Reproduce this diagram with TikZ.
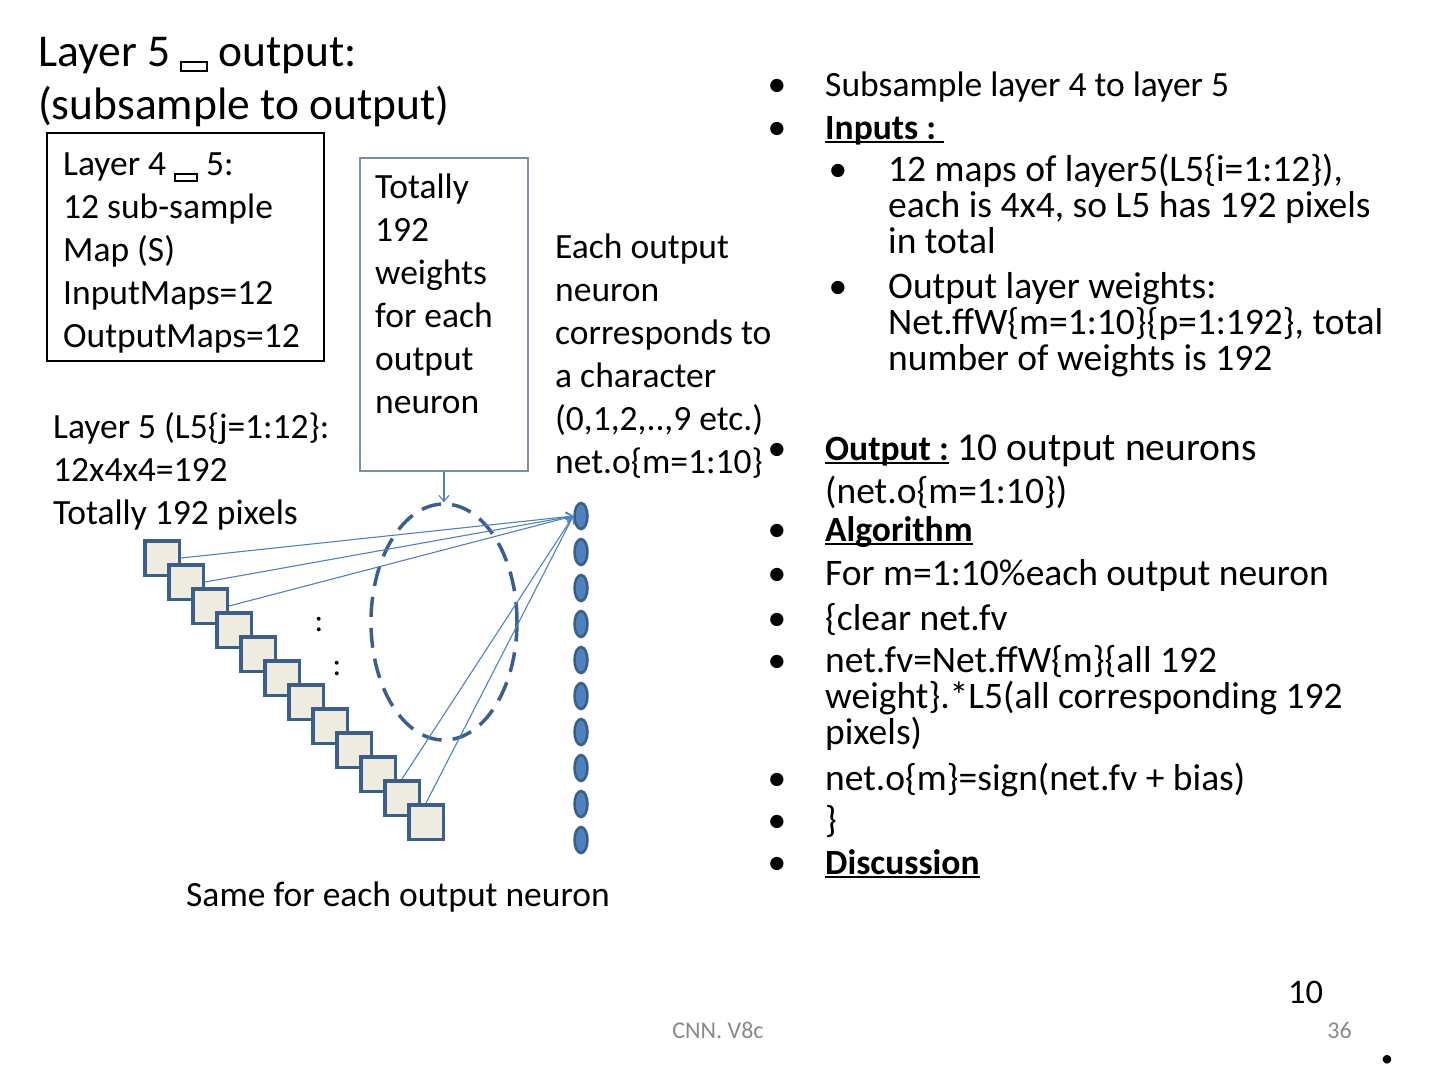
\documentclass[tikz,border=0pt]{standalone}
\usepackage{fontspec}
\setmainfont{Carlito}
\usetikzlibrary{arrows.meta,shapes.geometric}
\definecolor{sqborder}{HTML}{3B5E8C}
\definecolor{sqfill}{HTML}{EEECE1}
\definecolor{accent}{HTML}{4F81BD}
\definecolor{accentdark}{HTML}{385D8A}
\definecolor{boxgray}{HTML}{7D8DA3}
\definecolor{footgray}{HTML}{898989}
\newcommand\tofu[3]{\raisebox{#3}{\setlength\fboxsep{0pt}\setlength\fboxrule{2pt}\fbox{\rule{0pt}{#2}\rule{#1}{0pt}}}}
\newcommand\uln[1]{\setbox0\hbox{#1}\rlap{\rule[-4pt]{\wd0}{2pt}}\box0}
\newcommand\fsz[2]{\fontsize{#1}{#2}\selectfont}
\begin{document}
\begin{tikzpicture}[x=1pt,y=-1pt,
  lbl/.style={inner sep=0pt, anchor=base west, align=left, font=\fsz{35.5}{43}},
  sq/.style={draw=sqborder, fill=sqfill, line width=3.5pt, minimum size=34.5pt, inner sep=0pt},
  neuron/.style={ellipse, draw=accentdark, fill=accent, line width=2.5pt, minimum width=13pt, minimum height=26pt, inner sep=0pt},
  link/.style={draw=accent, line width=1.1pt, -{Straight Barb[length=6pt,width=10pt]}},
  bul/.style={inner sep=0pt, anchor=base, font=\fsz{37.5}{36}},
  item/.style={inner sep=0pt, anchor=base west, align=left, font=\fsz{37.5}{36}},
  bitem/.style={inner sep=0pt, anchor=base west, align=left, font=\bfseries\fsz{35.5}{36}},
]
\useasboundingbox (0,0) rectangle (1440,1080);

% title (multi-line nodes are anchored at the baseline of their last line)
\node[lbl, font=\fsz{45.5}{53}] (title) at (38,119) {Layer 5 \tofu{24pt}{7pt}{-4pt} output:\\(subsample to output)};

% layer 4 box
\node[draw=black, line width=2pt, minimum width=277pt, minimum height=228pt, inner sep=0pt] (l4box) at (185.5,247) {};
\node[lbl] (l4txt) at (63,347) {Layer 4 \tofu{20pt}{5pt}{-5pt} 5:\\12 sub-sample\\Map (S)\\InputMaps=12\\OutputMaps=12};

% weights box
\node[draw=boxgray, line width=1.5pt, minimum width=168pt, minimum height=313pt, inner sep=0pt] (wbox) at (444,314.5) {};
\node[lbl] (wtxt) at (375,413) {Totally\\192\\weights\\for each\\output\\neuron};

\node[lbl] (eachtxt) at (555,473) {Each output\\neuron\\corresponds to\\a character\\(0,1,2,..,9 etc.)\\net.o\{m=1:10\}};

\node[lbl] (l5txt) at (53,524) {Layer 5 (L5\{j=1:12\}:\\12x4x4=192\\Totally 192 pixels};

\node[lbl] (same) at (186,906) {Same for each output neuron};

% dashed group ellipse
\node[ellipse, draw=sqborder, line width=3.5pt, dash pattern=on 20pt off 11pt, minimum width=146pt, minimum height=236pt, inner sep=0pt] (grp) at (444,622) {};
\draw[link] (wbox.south) -- (grp.north);

% squares
\foreach \i in {1,...,12}
  \node[sq] (s\i) at ({162+24*(\i-1)},{558+24*(\i-1)}) {};

% neurons
\foreach \k in {1,...,10}
  \node[neuron] (n\k) at (581,{516+36*(\k-1)}) {};

% links
\draw[link] (s1.east) -- (n1.west);
\draw[link] (s2.east) -- (n1.west);
\draw[link] (s3.east) -- (n1.west);
\draw[link] (s11.north) -- (n1.west);
\draw[link] (s12.north) -- (n1.west);

% colons
\node[font=\fsz{32}{32}, inner sep=0pt, anchor=base] (c1) at (319,631) {:};
\node[font=\fsz{32}{32}, inner sep=0pt, anchor=base] (c2) at (337,675) {:};

% right column
\node[bul] (b1) at (777,96) {\textbullet};
\node[item, font=\fsz{35.5}{36}] (r1) at (825,96) {Subsample layer 4 to layer 5};
\node[bul] (b2) at (777,139) {\textbullet};
\node[bitem] (r2) at (825,139) {\uln{Inputs :\ }};
\node[bul] (b3) at (838,181) {\textbullet};
\node[item] (r3) at (888,253) {12 maps of layer5(L5\{i=1:12\}),\\each is 4x4, so L5 has 192 pixels\\in total};
\node[bul] (b4) at (838,298) {\textbullet};
\node[item] (r4) at (888,370) {Output layer weights:\\Net.ffW\{m=1:10\}\{p=1:192\}, total\\number of weights is 192};
\node[bul] (b5) at (777,460) {\textbullet};
\node[item] (r5) at (825,503) {\uln{\bfseries\fsz{35.5}{36}Output :}\fsz{39.5}{43} 10 output neurons\\[7pt](net.o\{m=1:10\})};
\node[bul] (b6) at (777,541) {\textbullet};
\node[bitem] (r6) at (825,541) {\uln{Algorithm}};
\node[bul] (b7) at (777,585) {\textbullet};
\node[item] (r7) at (825,585) {For m=1:10\%each output neuron};
\node[bul] (b8) at (777,630) {\textbullet};
\node[item] (r8) at (825,630) {\{clear net.fv};
\node[bul] (b9) at (777,672) {\textbullet};
\node[item] (r9) at (825,744) {net.fv=Net.ffW\{m\}\{all 192\\weight\}.*L5(all corresponding 192\\pixels)};
\node[bul] (b10) at (777,790) {\textbullet};
\node[item] (r10) at (825,790) {net.o\{m\}=sign(net.fv + bias)};
\node[bul] (b11) at (777,832) {\textbullet};
\node[item] (r11) at (825,832) {\}};
\node[bul] (b12) at (777,874) {\textbullet};
\node[bitem] (r12) at (825,874) {\uln{Discussion}};

% footer
\node[font=\fsz{24}{24}, text=footgray, inner sep=0pt, anchor=base] (foot) at (718,1038) {CNN. V8c};
\node[font=\fsz{24}{24}, text=footgray, inner sep=0pt, anchor=base east] (pg) at (1352,1038) {36};
\node[font=\fsz{34.5}{34.5}, inner sep=0pt, anchor=base west] (ten) at (1288,1003) {10};
\node[font=\fsz{24}{24}, inner sep=0pt, anchor=base] (dot) at (1387,1066) {\textbullet};
\end{tikzpicture}
\end{document}
